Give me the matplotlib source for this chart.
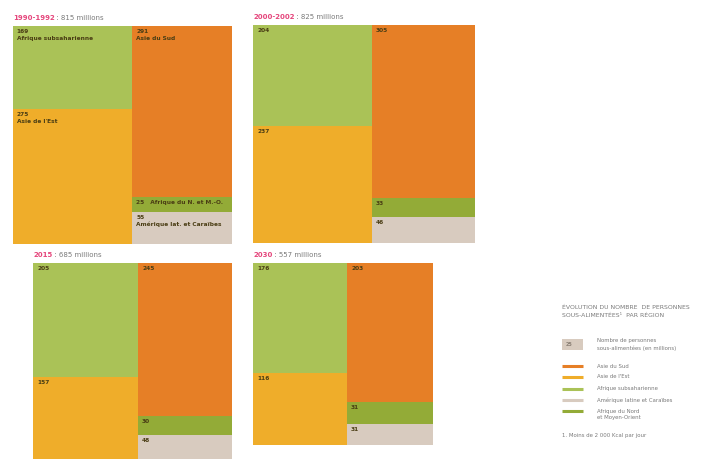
import matplotlib
matplotlib.use("Agg")
import matplotlib.pyplot as plt
from matplotlib.patches import Rectangle

# ---------------- data ----------------
periods = ["1990-1992", "2000-2002", "2015", "2030"]
totals_label = ["815 millions", "825 millions", "685 millions", "557 millions"]
regions = ["Afrique subsaharienne", "Asie de l'Est", "Asie du Sud",
           "Afrique du N. et M.-O.", "Amérique lat. et Caraïbes"]
ssa = [169, 204, 205, 176]
east_asia = [275, 237, 157, 116]
south_asia = [291, 305, 245, 203]
nena = [25, 33, 30, 31]
lac = [55, 46, 48, 31]

legend_labels = ["Asie du Sud", "Asie de l'Est", "Afrique subsaharienne",
                 "Amérique latine et Caraïbes", "Afrique du Nord\net Moyen-Orient"]

# ---------------- style / layout ----------------
C_SSA = "#aac257"
C_EA = "#efad2a"
C_SA = "#e67f26"
C_NENA = "#93ab37"
C_LAC = "#d8cbbf"
TXT = "#4a3d14"
PINK = "#e5467c"
GREY = "#7a7a7a"

K = 58.66  # px^2 per million
anchors = [(12.7, 26), (253, 25), (33, 263), (253, 263)]
heights = [218, 218, 202, 182]

fig = plt.figure(figsize=(7.14, 4.59), dpi=100)
ax = fig.add_axes([0, 0, 1, 1])
ax.set_xlim(0, 714)
ax.set_ylim(459, 0)
ax.axis("off")

fs = 4.2
for i in range(4):
    x0, y0 = anchors[i]
    H = heights[i]
    left = [(ssa[i], C_SSA, 0), (east_asia[i], C_EA, 1)]
    right = [(south_asia[i], C_SA, 2), (nena[i], C_NENA, 3), (lac[i], C_LAC, 4)]
    x = x0
    for col in (left, right):
        csum = sum(v for v, _, _ in col)
        w = csum * K / H
        y = y0
        for v, c, ri in col:
            h = H * v / csum
            ax.add_patch(Rectangle((x, y), w, h, facecolor=c, edgecolor="none"))
            if i == 0:
                if ri == 3:
                    lab = f"{v}   {regions[ri]}"
                else:
                    lab = f"{v}\n{regions[ri]}"
            else:
                lab = f"{v}"
            ax.text(x + 4, y + 3, lab, fontsize=fs, color=TXT, va="top", ha="left",
                    fontweight="semibold", linespacing=1.5)
            y += h
        x += w
    # title
    t1 = ax.text(x0, y0 - 5, periods[i], fontsize=5.0, color=PINK, va="bottom", ha="left",
                 fontweight="bold")
    fig.canvas.draw()
    bb = t1.get_window_extent()
    inv = ax.transData.inverted()
    xe = inv.transform((bb.x1, bb.y0))[0]
    ax.text(xe, y0 - 5, " : " + totals_label[i], fontsize=5.0, color=GREY,
            va="bottom", ha="left")

# ---------------- legend ----------------
lx = 562
ax.text(lx, 305, "ÉVOLUTION DU NOMBRE  DE PERSONNES\nSOUS-ALIMENTÉES¹  PAR RÉGION",
        fontsize=4.4, color=GREY, va="top", ha="left", linespacing=1.6)
ax.add_patch(Rectangle((lx, 339), 21, 11, facecolor=C_LAC, edgecolor="none"))
ax.text(lx + 4, 344.5, "25", fontsize=3.5, color="#8a7f74", va="center", ha="left",
        fontweight="bold")
ax.text(597, 344.5, "Nombre de personnes\nsous-alimentées (en millions)", fontsize=3.9,
        color=GREY, va="center", ha="left", linespacing=1.5)
leg_colors = [C_SA, C_EA, C_SSA, C_LAC, C_NENA]
leg_y = [366, 377, 388.5, 400, 411]
for c, yy, lab in zip(leg_colors, leg_y, legend_labels):
    ax.plot([lx, lx + 21], [yy, yy], color=c, lw=2.2, solid_capstyle="butt")
    if "\n" in lab:
        ax.text(597, yy - 2.5, lab, fontsize=3.9, color=GREY, va="top", ha="left",
                linespacing=1.5)
    else:
        ax.text(597, yy, lab, fontsize=3.9, color=GREY, va="center", ha="left")
ax.text(lx, 436, "1. Moins de 2 000 Kcal par jour", fontsize=3.9, color=GREY,
        va="center", ha="left")

fig.savefig("out.png", dpi=100, facecolor="white")
